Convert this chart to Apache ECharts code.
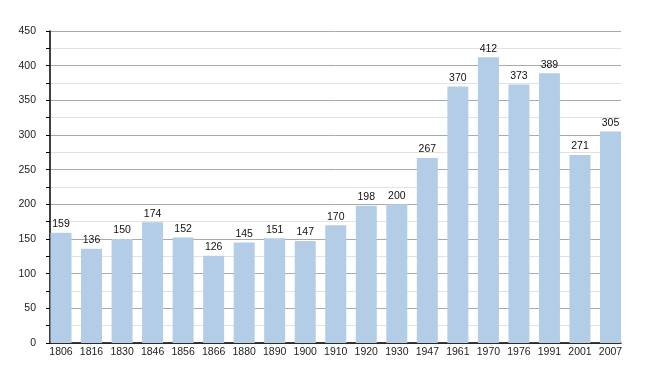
<!DOCTYPE html>
<html><head><meta charset="utf-8">
<script src="https://cdn.jsdelivr.net/npm/echarts@6/dist/echarts.min.js"></script>
<style>html,body{margin:0;padding:0;background:#fff}#c{width:650px;height:373px}</style>
</head><body><div id="c"></div>
<script>
var years = ['1806','1816','1830','1846','1856','1866','1880','1890','1900','1910','1920','1930','1947','1961','1970','1976','1991','2001','2007'];
var population = [159,136,150,174,152,126,145,151,147,170,198,200,267,370,412,373,389,271,305];
var yMin = 0, yMax = 450, yStep = 50;

var chart = echarts.init(document.getElementById('c'), null, {renderer:'canvas'});
var font = 'Liberation Sans, Arial, sans-serif';
chart.setOption({
  animation: false,
  grid: [
    {left: 50, right: 29, top: 31, bottom: 30},
    {left: 61, right: 39.5, top: 31, bottom: 30}
  ],
  xAxis: [
    {gridIndex: 0, type: 'value', min: 0, max: 1, show: true,
     axisLine: {show: true, onZero: false, lineStyle: {color: '#000', width: 1.5}},
     axisTick: {show: false}, axisLabel: {show: false}, splitLine: {show: false}},
    {gridIndex: 1, type: 'category', data: years, boundaryGap: false,
     axisLine: {show: false}, axisTick: {show: false}, splitLine: {show: false},
     axisLabel: {interval: 0, margin: 4, fontSize: 10.5, color: '#222', fontFamily: font}}
  ],
  yAxis: [
    {gridIndex: 0, type: 'value', min: yMin, max: yMax, interval: yStep,
     axisLine: {show: true, lineStyle: {color: '#000', width: 1.5}},
     axisTick: {show: true, length: 4, lineStyle: {color: '#000'}},
     minorTick: {show: true, splitNumber: 2, length: 4, lineStyle: {color: '#000'}},
     splitLine: {show: true, lineStyle: {color: '#aaaaaa', width: 1}},
     minorSplitLine: {show: true, lineStyle: {color: '#e2e2e2', width: 1}},
     axisLabel: {margin: 14, fontSize: 10.5, color: '#222', fontFamily: font}},
    {gridIndex: 1, type: 'value', min: yMin, max: yMax, interval: yStep, show: false,
     splitLine: {show: false}}
  ],
  series: [{
    type: 'bar', xAxisIndex: 1, yAxisIndex: 1, data: population,
    barWidth: 21,
    itemStyle: {color: '#b3cde6'},
    label: {show: true, position: 'top', distance: 3, fontSize: 10.5, color: '#111', fontFamily: font}
  }]
});
</script></body></html>
